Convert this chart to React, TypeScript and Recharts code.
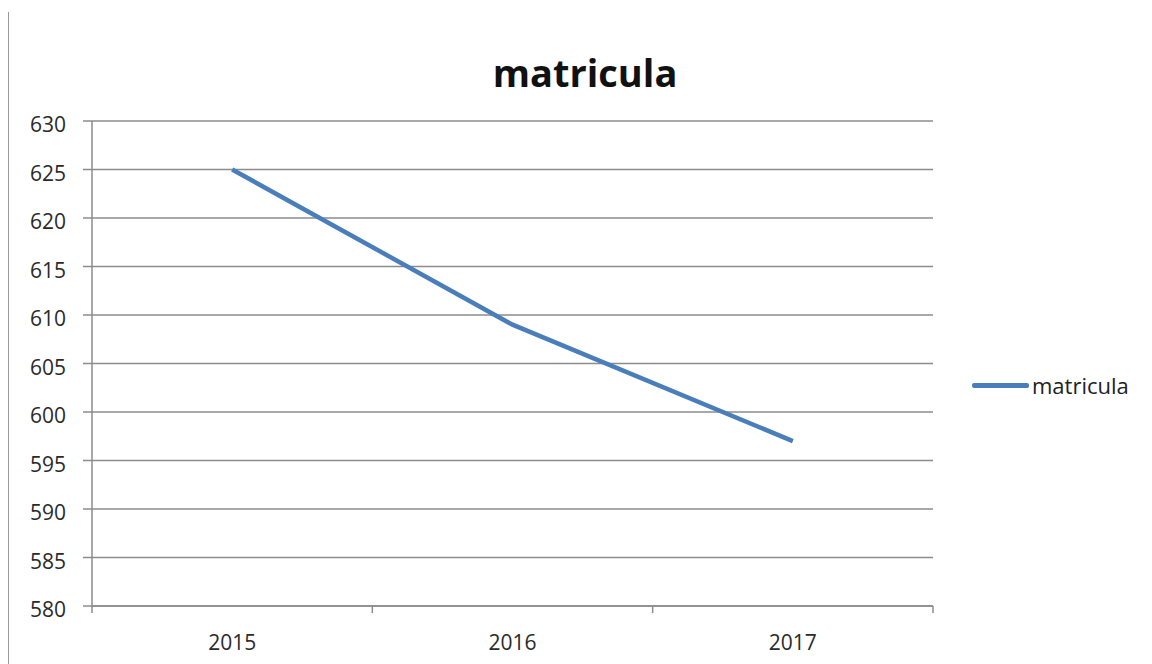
import { LineChart, Line, XAxis, YAxis, CartesianGrid } from 'recharts'

const years = ['2015', '2016', '2017']
const matricula = [625, 609, 597]
const yTicks = [580, 585, 590, 595, 600, 605, 610, 615, 620, 625, 630]

const data = years.map((year, i) => ({ year, matricula: matricula[i] }))

const FONT = '"Open Sans", "DejaVu Sans", sans-serif'
const GRID = '#8c8c8c'
const BLUE = '#4a7ebb'

// largura do plot dividida pelas categorias, para as marcas entre os anos
const PLOT_W = 841
const HALF_BAND = PLOT_W / years.length / 2

function YearTick(props: any) {
  const { x, y, payload, index } = props
  const axisY = y - 28
  return (
    <g>
      <line x1={x - HALF_BAND} x2={x - HALF_BAND} y1={axisY} y2={axisY + 7} stroke={GRID} strokeWidth={1.5} />
      {index === years.length - 1 && (
        <line x1={x + HALF_BAND} x2={x + HALF_BAND} y1={axisY} y2={axisY + 7} stroke={GRID} strokeWidth={1.5} />
      )}
      <text x={x} y={y} dy={16} textAnchor="middle" fill="#2a2a2a" fontSize={21} fontFamily={FONT}>
        {payload.value}
      </text>
    </g>
  )
}

function ValueTick(props: any) {
  const { x, y, payload } = props
  return (
    <text x={x} y={y} dy={11} textAnchor="end" fill="#2a2a2a" fontSize={21} fontFamily={FONT}>
      {payload.value}
    </text>
  )
}

export default function App() {
  return (
    <div style={{ position: 'absolute', left: 0, top: 0, width: 1152, height: 664, background: '#fff', overflow: 'hidden' }}>
      <div style={{ position: 'absolute', left: 8, top: 12, bottom: 0, borderLeft: '1.5px solid #999' }} />
      <div
        style={{
          position: 'absolute',
          left: 0,
          top: 46,
          width: 1170,
          textAlign: 'center',
          fontFamily: FONT,
          fontWeight: 700,
          fontSize: 38,
          color: '#111',
        }}
      >
        matricula
      </div>
      <div
        style={{
          position: 'absolute',
          left: 972,
          top: 370,
          display: 'flex',
          alignItems: 'center',
          fontFamily: FONT,
          fontSize: 22,
          color: '#222',
        }}
      >
        <span style={{ display: 'inline-block', width: 57, height: 5, background: BLUE, borderRadius: 2 }} />
        <span style={{ marginLeft: 3 }}>{'matricula'}</span>
      </div>
      <LineChart width={1152} height={664} data={data} margin={{ top: 121, right: 219, bottom: 18, left: 0 }}>
        <CartesianGrid vertical={false} stroke={GRID} strokeWidth={1.5} />
        <XAxis
          dataKey="year"
          padding={{ left: HALF_BAND, right: HALF_BAND }}
          axisLine={{ stroke: GRID, strokeWidth: 1.5 }}
          tickLine={false}
          tick={<YearTick />}
          tickMargin={22}
          height={40}
          interval={0}
        />
        <YAxis
          domain={[580, 630]}
          ticks={yTicks}
          interval={0}
          width={92}
          axisLine={{ stroke: GRID, strokeWidth: 1.5 }}
          tickLine={{ stroke: GRID, strokeWidth: 1.5 }}
          tickSize={9}
          tickMargin={17}
          tick={<ValueTick />}
        />
        <Line
          type="linear"
          dataKey="matricula"
          stroke={BLUE}
          strokeWidth={4.5}
          dot={false}
          activeDot={false}
          isAnimationActive={false}
        />
      </LineChart>
    </div>
  )
}
